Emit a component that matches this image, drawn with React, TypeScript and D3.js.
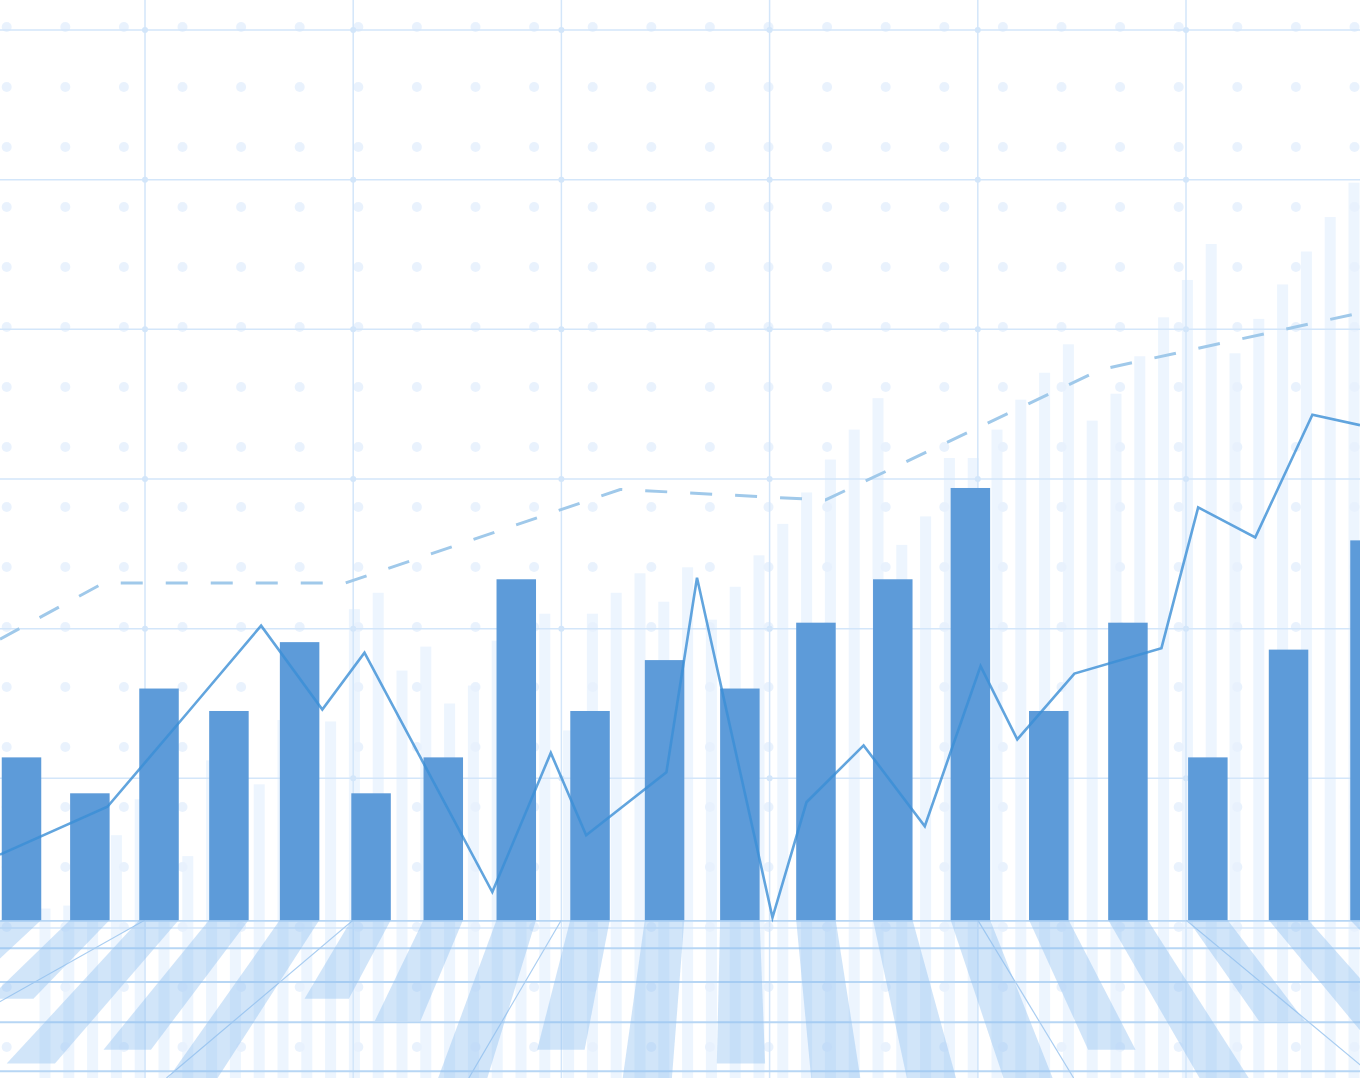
import React from "react";
import * as d3 from "d3";

// ---------- data ----------
const barCategories = ["01","02","03","04","05","06","07","08","09","10","11","12","13","14","15","16","17","18","19"];
const barValues = [11.4, 9.0, 16.0, 14.5, 19.1, 9.0, 11.4, 23.3, 14.5, 17.9, 16.0, 20.4, 23.3, 29.4, 14.5, 20.4, 11.4, 18.6, 25.9];

const lightBarValues = [
  1.3, 1.5, 5.2, 6.2, 8.6, 9.9, 4.8, 11.2, 12.6, 9.6, 13.9, 15.2, 13.8, 21.3, 22.4, 17.2,
  18.8, 15.0, 16.2, 19.2, 19.9, 21.0, 13.2, 21.0, 22.4, 23.7, 21.8, 24.1, 20.6, 22.8, 24.9, 27.0,
  29.1, 31.3, 33.3, 35.4, 25.6, 27.5, 31.4, 31.4, 33.3, 35.3, 37.1, 39.0, 33.9, 35.7, 38.2, 40.8,
  43.3, 45.7, 38.4, 40.7, 43.0, 45.2, 47.5, 49.8,
];

const lineT = [0, 7.9, 13.8, 19.2, 23.7, 26.8, 36.2, 40.5, 43.1, 49.0, 51.25, 56.8, 59.3, 63.5, 68.0, 72.1, 74.8, 79.0, 85.4, 88.1, 92.3, 96.5, 100];
const lineValues = [4.9, 8.1, 14.4, 20.2, 14.6, 18.4, 2.4, 11.7, 6.2, 10.4, 23.4, 0.7, 8.4, 12.2, 6.8, 17.5, 12.6, 17.0, 18.7, 28.1, 26.1, 34.3, 33.6];

const trendT = [0, 7.6, 25.4, 45.6, 60.7, 80.9, 100];
const trendValues = [19.3, 23.05, 23.05, 29.3, 28.6, 37.3, 41.1];

const gridYTicks = [0, 10, 20, 30, 40, 50, 60];
const gridXTicks = [0, 1, 2, 3, 4, 5];
const floorDepths = [0, 1, 2, 3];

// ---------- layout ----------
const W = 1360;
const H = 1078;
const BAR_BASE = 0.53;

const yScale = d3.scaleLinear().domain([0, 60]).range([928, 30]);
const xTime = d3.scaleLinear().domain([0, 100]).range([0, W]);
// slight perspective spacing of the main bars
const BAR_OFFSET = 88.3;
const barX = d3.scalePow().exponent(2).domain([BAR_OFFSET, BAR_OFFSET + 18]).range([21.5, 1370]);
const lightX = d3.scaleLinear().domain([0, 55]).range([45, 1354]);
const gridX = d3.scaleLinear().domain([0, 5]).range([145, 1186]);
const dotCols = d3.range(24).map((k) => 6.7 + 58.6 * k);
const dotRows = d3.range(18).map((j) => 27 + 60 * j);

const baseY = yScale(BAR_BASE);
const BAR_W = 39.5;
const LIGHT_W = 11;

// perspective floor
const VP_X = 766, VP_Y = 571;
const floorY = (d: number) => VP_Y + 1 / (0.00265 - 0.000217 * d);
const SH_VX = 735, SH_D = 645, SH_K = 0.62;

const COLORS = {
  grid: "#d3e6fa",
  dot: "#e7f1fd",
  light: "#edf5fe",
  bar: "#5d9bd9",
  line: "#3b8fd6",
  trend: "#a0c9ea",
  floor: "#b7d6f4",
  shadow: "rgba(140,190,240,0.40)",
};

export default function App() {
  const barIdx = (c: string) => barCategories.indexOf(c);
  const line = d3
    .line<number>()
    .x((_, i) => xTime(lineT[i]))
    .y((v) => yScale(v));
  const trend = d3
    .line<number>()
    .x((_, i) => xTime(trendT[i]))
    .y((v) => yScale(v));

  const shadowPath = (x0: number, x1: number, h: number) => {
    const dy = SH_K * h;
    const p = (x: number) => x + ((x - SH_VX) * dy) / SH_D;
    return `M${x0},${baseY}L${x1},${baseY}L${p(x1)},${baseY + dy}L${p(x0)},${baseY + dy}Z`;
  };

  return (
    <svg
      width={W}
      height={H}
      style={{ position: "absolute", left: 0, top: 0, display: "block" }}
    >
      <defs>
        <clipPath id="floorClip">
          <rect x={0} y={baseY} width={W} height={H - baseY} />
        </clipPath>
      </defs>
      <rect x={0} y={0} width={W} height={H} fill="#ffffff" />

      {/* light background bars (extend into floor) */}
      <g>
        {lightBarValues.map((v, i) => (
          <rect
            key={i}
            x={lightX(i) - LIGHT_W / 2}
            y={yScale(v)}
            width={LIGHT_W}
            height={H - yScale(v)}
            fill={COLORS.light}
          />
        ))}
      </g>

      {/* dots */}
      <g>
        {dotRows.map((y) =>
          dotCols.map((x) => (
            <circle key={`${x}-${y}`} cx={x} cy={y} r={5} fill={COLORS.dot} opacity={0.9} />
          ))
        )}
      </g>

      {/* grid */}
      <g>
        {gridYTicks.map((t) => (
          <line key={t} x1={0} x2={W} y1={yScale(t)} y2={yScale(t)} stroke={COLORS.grid} strokeWidth={1.5} />
        ))}
        {gridXTicks.map((t) => (
          <line key={t} x1={gridX(t)} x2={gridX(t)} y1={0} y2={H} stroke={COLORS.grid} strokeWidth={1.5} />
        ))}
        {gridXTicks.map((tx) =>
          gridYTicks.slice(1).map((ty) => (
            <circle key={`${tx}-${ty}`} cx={gridX(tx)} cy={yScale(ty)} r={3} fill={COLORS.grid} />
          ))
        )}
      </g>

      {/* floor */}
      <g clipPath="url(#floorClip)">
        <line x1={0} x2={W} y1={baseY + 0.7} y2={baseY + 0.7} stroke={COLORS.floor} strokeWidth={2} />
        {floorDepths.map((d) => (
          <line key={d} x1={0} x2={W} y1={floorY(d)} y2={floorY(d)} stroke={COLORS.floor} strokeWidth={2} />
        ))}
        {gridXTicks
          .filter((t) => Math.abs(gridX(t) - VP_X) > 20)
          .map((t) => {
            const x0 = gridX(t);
            const dy = H - baseY;
            const x1 = x0 + ((x0 - VP_X) * dy) / (baseY - VP_Y);
            return <line key={t} x1={x0} y1={baseY} x2={x1} y2={H} stroke="#a9cdf1" strokeWidth={1.2} />;
          })}
        {barCategories.map((c, i) => {
          const cx = barX(BAR_OFFSET + barIdx(c));
          const h = baseY - yScale(barValues[i]);
          return <path key={c} d={shadowPath(cx - BAR_W / 2, cx + BAR_W / 2, h)} fill={COLORS.shadow} />;
        })}
      </g>

      {/* dashed trend */}
      <path
        d={trend(trendValues) || ""}
        fill="none"
        stroke={COLORS.trend}
        strokeWidth={3}
        strokeDasharray="22 23"
      />

      {/* main bars */}
      <g>
        {barCategories.map((c, i) => {
          const cx = barX(BAR_OFFSET + barIdx(c));
          return (
            <rect
              key={c}
              x={cx - BAR_W / 2}
              y={yScale(barValues[i])}
              width={BAR_W}
              height={baseY - yScale(barValues[i])}
              fill={COLORS.bar}
            />
          );
        })}
      </g>

      {/* solid line */}
      <path
        d={line(lineValues) || ""}
        fill="none"
        stroke={COLORS.line}
        strokeWidth={2.6}
        strokeLinejoin="miter"
        opacity={0.8}
      />
    </svg>
  );
}
